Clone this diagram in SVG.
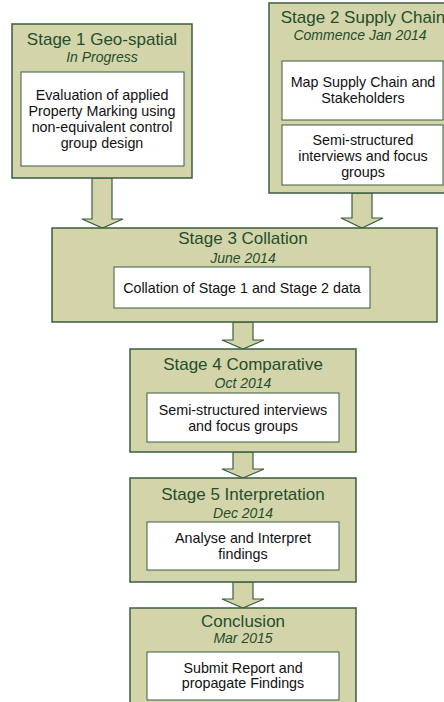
<svg xmlns="http://www.w3.org/2000/svg" width="444" height="702" viewBox="0 0 444 702">
<style>
.box{fill:#D4D4AA;stroke:#3B5E3F;stroke-width:1.5}
.inner{fill:#FFFFFF;stroke:#3B5E3F;stroke-width:1}
.arrow{fill:#D4D4AA;stroke:#3B5E3F;stroke-width:1.2;stroke-linejoin:miter}
.title{font-family:"Liberation Sans",Arial,sans-serif;font-size:17px;fill:#1F4E2C;text-anchor:middle}
.sub{font-family:"Liberation Sans",Arial,sans-serif;font-size:14px;font-style:italic;fill:#1F4E2C;text-anchor:middle}
.body{font-family:"Liberation Sans",Arial,sans-serif;font-size:14.3px;fill:#111111;text-anchor:middle}
</style>
<rect width="444" height="702" fill="#FFFFFF"/>
<g id="connectors">
<path class="arrow" d="M92,178 V219 H82 L102.5,228 L123,219 H112 V178 Z"/>
<path class="arrow" d="M352,193 V218 H341 L362,228 L383,218 H372 V193 Z"/>
<path class="arrow" d="M233,322 V340 H222 L243,349 L264,340 H253 V322 Z"/>
<path class="arrow" d="M233,452 V469 H222 L243,478 L264,469 H253 V452 Z"/>
<path class="arrow" d="M233,582 V599 H222 L243,608 L264,599 H253 V582 Z"/>
</g>
<g id="stage1">
<rect class="box" x="12" y="24" width="180" height="154"/>
<text class="title" x="102" y="45">Stage 1 Geo-spatial</text>
<text class="sub" x="102" y="62">In Progress</text>
<rect class="inner" x="21" y="72" width="163" height="94"/>
<text class="body" x="102" y="100">Evaluation  of applied</text>
<text class="body" x="102" y="116">Property Marking using</text>
<text class="body" x="102" y="132">non-equivalent control</text>
<text class="body" x="102" y="148">group design</text>
</g>
<g id="stage2">
<rect class="box" x="269" y="3" width="190" height="190"/>
<text class="title" x="363" y="22.5">Stage 2 Supply Chain</text>
<text class="sub" x="360" y="39.5">Commence Jan 2014</text>
<rect class="inner" x="282" y="61" width="161" height="59"/>
<text class="body" x="363" y="87">Map Supply Chain and</text>
<text class="body" x="363" y="103">Stakeholders</text>
<rect class="inner" x="282" y="125" width="161" height="60"/>
<text class="body" x="363" y="145">Semi-structured</text>
<text class="body" x="363" y="161">interviews and focus</text>
<text class="body" x="363" y="177">groups</text>
</g>
<g id="stage3">
<rect class="box" x="52" y="228" width="385" height="94"/>
<text class="title" x="243" y="244">Stage 3 Collation</text>
<text class="sub" x="243" y="263">June 2014</text>
<rect class="inner" x="114" y="267" width="256" height="41"/>
<text class="body" x="242" y="293">Collation of Stage 1 and Stage 2 data</text>
</g>
<g id="stage4">
<rect class="box" x="130" y="349" width="226" height="103"/>
<text class="title" x="243" y="370">Stage 4 Comparative</text>
<text class="sub" x="243" y="388">Oct 2014</text>
<rect class="inner" x="147" y="393" width="192" height="49"/>
<text class="body" x="243" y="415">Semi-structured interviews</text>
<text class="body" x="243" y="431">and focus groups</text>
</g>
<g id="stage5">
<rect class="box" x="130" y="478" width="226" height="104"/>
<text class="title" x="243" y="500">Stage 5 Interpretation</text>
<text class="sub" x="243" y="518">Dec 2014</text>
<rect class="inner" x="147" y="522" width="192" height="48"/>
<text class="body" x="243" y="543">Analyse and Interpret</text>
<text class="body" x="243" y="559">findings</text>
</g>
<g id="conclusion">
<rect class="box" x="130" y="608" width="226" height="104"/>
<text class="title" x="243" y="627">Conclusion</text>
<text class="sub" x="243" y="643">Mar 2015</text>
<rect class="inner" x="147" y="652" width="192" height="48"/>
<text class="body" x="243" y="673">Submit Report and</text>
<text class="body" x="243" y="688">propagate Findings</text>
</g>
</svg>
